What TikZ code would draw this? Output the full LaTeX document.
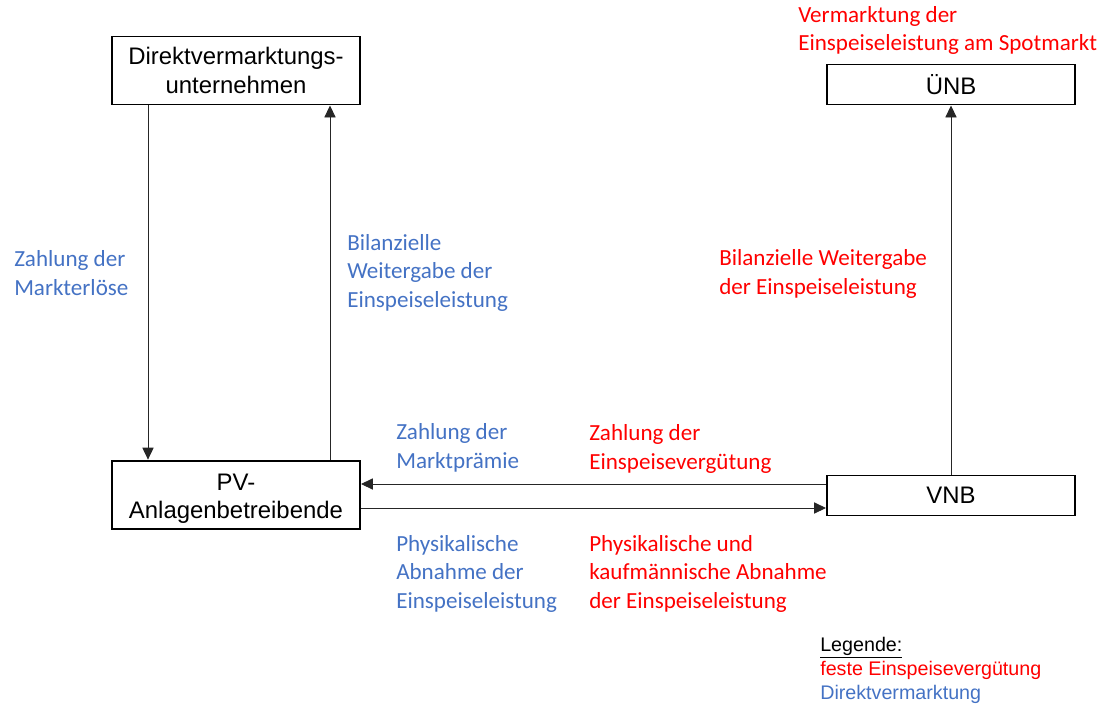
\documentclass[tikz,border=0pt]{standalone}
\usepackage{fontspec}
\setmainfont{Liberation Sans}
\newfontfamily\calibri{Carlito}
\usetikzlibrary{arrows.meta}
\definecolor{dvblue}{HTML}{4472C4}
\definecolor{eegred}{HTML}{FF0000}

\begin{document}
\begin{tikzpicture}[x=0.025cm, y=-0.025cm,
    actor/.style={draw, line width=1.4pt, minimum width=6.2cm, inner sep=0pt, align=center, font=\fontsize{17}{20.5}\selectfont},
    flow/.style={-{Triangle[length=8.5pt, width=8pt]}, line width=0.6pt, black!85},
    bluelabel/.style={anchor=base west, align=left, inner sep=0pt, text=dvblue, font=\calibri\fontsize{16.4}{20}\selectfont},
    redlabel/.style={bluelabel, text=eegred}]

    \useasboundingbox (0,0) rectangle (1101,706);

    % actors
    \node[actor, minimum height=1.7cm] (dvu) at (236,70.5) {Direktvermarktungs-\\unternehmen};
    \node[actor, minimum height=1cm] (uenb) at (951,84.5) {ÜNB};
    \node[actor, minimum height=1.72cm] (pv) at (236,495) {\rule{0pt}{17pt}PV-\\Anlagenbetreibende};
    \node[actor, minimum height=1cm] (vnb) at (951,495.5) {VNB};

    % helper coordinates for the connectors
    \coordinate (xa) at (148,0);
    \coordinate (xb) at (330,0);
    \coordinate (ya) at (0,484);
    \coordinate (yb) at (0,508);

    % connectors
    \draw[flow] (dvu.south -| xa) -- (pv.north -| xa);
    \draw[flow] (pv.north -| xb) -- (dvu.south -| xb);
    \draw[flow] (vnb.north) -- (uenb.south);
    \draw[flow] (vnb.west |- ya) -- (pv.east |- ya);
    \draw[flow] (pv.east |- yb) -- (vnb.west |- yb);

    % labels Direktvermarktung (placed at the last baseline)
    \node[bluelabel] (l1) at (14,295) {Zahlung der\\Markterlöse};
    \node[bluelabel] (l2) at (347,307) {Bilanzielle\\Weitergabe der\\Einspeiseleistung};
    \node[bluelabel] (l3) at (396,468) {Zahlung der\\Marktprämie};
    \node[bluelabel] (l4) at (396,608) {Physikalische\\Abnahme der\\Einspeiseleistung};

    % labels feste Einspeiseverguetung
    \node[redlabel] (r1) at (798,50.5) {Vermarktung der\\Einspeiseleistung am Spotmarkt};
    \node[redlabel] (r2) at (719,294) {Bilanzielle Weitergabe\\der Einspeiseleistung};
    \node[redlabel] (r3) at (589,469) {Zahlung der\\Einspeisevergütung};
    \node[redlabel] (r4) at (589,608) {Physikalische und\\kaufmännische Abnahme\\der Einspeiseleistung};

    % legend
    \node[anchor=base west, align=left, inner sep=0pt, font=\fontsize{14}{17}\selectfont] (legend) at (820,699)
        {\underline{Legende:}\\\textcolor{eegred}{feste Einspeisevergütung}\\\textcolor{dvblue}{Direktvermarktung}};

\end{tikzpicture}
\end{document}
